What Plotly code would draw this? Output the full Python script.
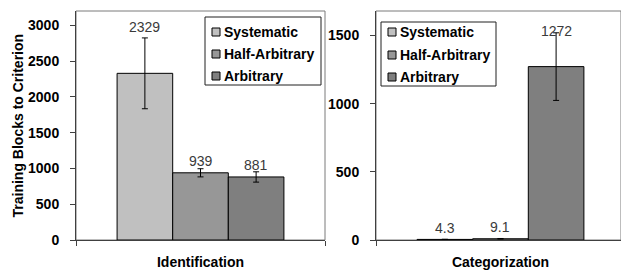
import plotly.graph_objects as go

# ---- data ----
series = ["Systematic", "Half-Arbitrary", "Arbitrary"]
left_category = ["Identification"]
right_category = ["Categorization"]
ident_means = [2329, 939, 881]
ident_errors = [495, 57, 72]
ident_labels = ["2329", "939", "881"]
categ_means = [4.3, 9.1, 1272]
categ_errors = [1.0, 2.0, 248]
categ_labels = ["4.3", "9.1", "1272"]
left_ticks = [0, 500, 1000, 1500, 2000, 2500, 3000]
right_ticks = [0, 500, 1000, 1500]
y_title = "Training Blocks to Criterion"

# ---- style ----
W, H = 621, 271          # reference picture size (layout coordinates)
FIG_H = 279              # figure height
colors = ["#c0c0c0", "#979797", "#7f7f7f"]
FONT = "Liberation Sans, Arial, sans-serif"
bargap = 0.33
left_shift = [11, 8, 7]
right_shift = [11, 11, 2]


def px(x):
    return x / W


def py(y):
    return 1 - y / H


fig = go.Figure()
for i, name in enumerate(series):
    fig.add_trace(go.Bar(
        x=left_category, y=[ident_means[i]], name=name, xaxis="x", yaxis="y",
        marker=dict(color=colors[i], line=dict(color="#000000", width=1)),
        error_y=dict(type="data", array=[ident_errors[i]], color="#000000",
                     thickness=1, width=3),
        showlegend=False,
    ))
    fig.add_trace(go.Bar(
        x=right_category, y=[categ_means[i]], name=name, xaxis="x2", yaxis="y2",
        marker=dict(color=colors[i], line=dict(color="#000000", width=1)),
        error_y=dict(type="data", array=[categ_errors[i]], color="#000000",
                     thickness=1, width=3),
        showlegend=False,
    ))

bar_w = (1 - bargap) / len(series)
annotations = []
for i in range(len(series)):
    off = (i - (len(series) - 1) / 2) * bar_w
    annotations.append(dict(
        x=off, y=ident_means[i] + ident_errors[i], xref="x", yref="y",
        text=ident_labels[i], showarrow=False, yanchor="middle",
        yshift=left_shift[i], font=dict(family=FONT, size=14, color="#3a3a3a")))
    annotations.append(dict(
        x=off, y=categ_means[i] + categ_errors[i], xref="x2", yref="y2",
        text=categ_labels[i], showarrow=False, yanchor="middle",
        yshift=right_shift[i], font=dict(family=FONT, size=14, color="#3a3a3a")))

annotations.append(dict(
    x=px(17), y=0.5 * (py(33) + py(218)), xref="paper", yref="paper",
    xanchor="center", yanchor="middle",
    text="<b>" + y_title + "</b>", textangle=-90, showarrow=False,
    font=dict(family=FONT, size=14, color="#000000")))

shapes = []
# plot-area borders
for xr, yr in (("x domain", "y domain"), ("x2 domain", "y2 domain")):
    shapes.append(dict(type="rect", xref=xr, yref=yr, x0=0, x1=1, y0=0, y1=1,
                       line=dict(color="#7a7a7a", width=1), layer="below"))

# manual legends (boxes, swatches, names)
for (lx0, lx1, ly0, ly1, rows) in ((205, 321, 17, 85, [32, 54, 76]),
                                   (381, 496, 22, 86, [32, 55, 77])):
    shapes.append(dict(type="rect", xref="paper", yref="paper",
                       x0=px(lx0), x1=px(lx1), y0=py(ly1), y1=py(ly0),
                       line=dict(color="#202020", width=1), fillcolor="white"))
    for i, name in enumerate(series):
        cy = rows[i]
        shapes.append(dict(type="rect", xref="paper", yref="paper",
                           x0=px(lx0 + 7), x1=px(lx0 + 15),
                           y0=py(cy + 4), y1=py(cy - 4),
                           line=dict(color="#000000", width=1), fillcolor=colors[i]))
        annotations.append(dict(
            x=px(lx0 + 17), y=py(cy), xref="paper", yref="paper",
            text="<b>" + name + "</b>", showarrow=False, xanchor="left",
            yanchor="middle", font=dict(family=FONT, size=14, color="#000000")))

axis_common = dict(showline=True, linecolor="#404040", linewidth=1,
                   ticks="outside", ticklen=5, tickcolor="#404040",
                   showgrid=False, zeroline=False,
                   tickfont=dict(family=FONT, size=14, color="#000000", weight="bold"))

fig.update_layout(
    width=W, height=FIG_H, margin=dict(l=0, r=0, t=0, b=0),
    paper_bgcolor="white", plot_bgcolor="white",
    barmode="group", bargap=bargap, bargroupgap=0,
    showlegend=False,
    xaxis=dict(domain=[px(76), px(325)], anchor="y", type="category",
               range=[-0.5, 0.5], tickson="boundaries",
               ticklabelstandoff=9, **axis_common),
    yaxis=dict(domain=[py(240), py(11)], anchor="x", range=[0, 3200],
               tickvals=left_ticks, ticklabelstandoff=8, **axis_common),
    xaxis2=dict(domain=[px(376), 1], anchor="y2", type="category",
                range=[-0.5, 0.484], tickson="boundaries",
                ticklabelstandoff=9, **axis_common),
    yaxis2=dict(domain=[py(240), py(11)], anchor="x2", range=[0, 1680],
                tickvals=right_ticks, ticklabelstandoff=8, **axis_common),
    annotations=annotations, shapes=shapes,
)

fig.write_html(
    "out.html",
    config={"displayModeBar": False},
    post_script=(
        "document.documentElement.style.margin='0';"
        "document.documentElement.style.overflow='hidden';"
        "document.body.style.margin='0';"
        "document.body.style.overflow='hidden';"
    ),
)
